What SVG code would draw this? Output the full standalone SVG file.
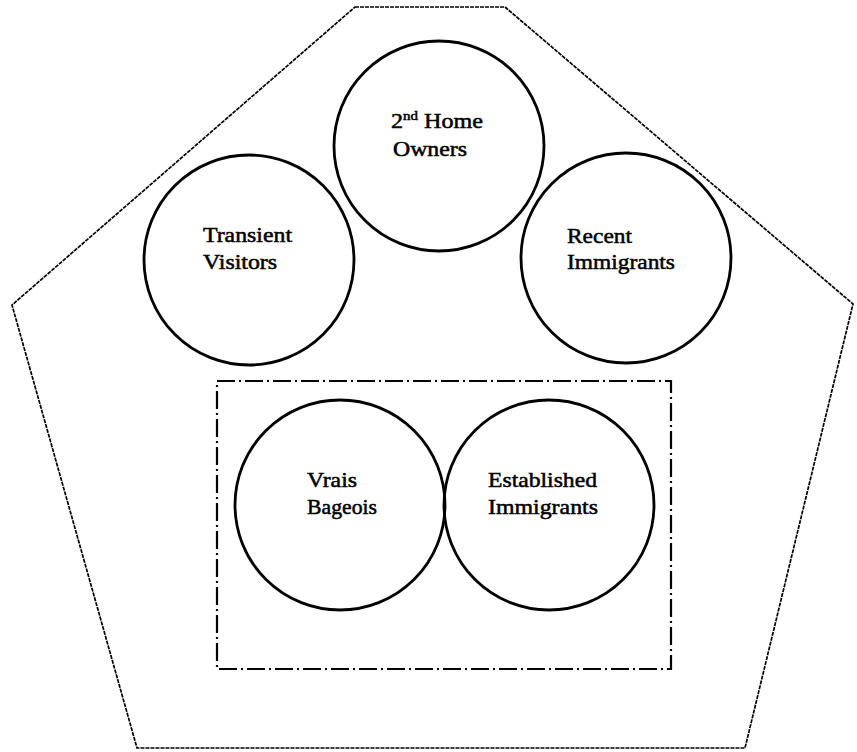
<svg xmlns="http://www.w3.org/2000/svg" width="857" height="752" viewBox="0 0 857 752">
<style>
.bg{fill:#ffffff}
.outer{fill:none;stroke:#000;stroke-width:1.7;stroke-dasharray:4 1;stroke-linejoin:miter}
.group{fill:none;stroke:#000;stroke-width:2.2;stroke-dasharray:18 4 2 4}
.node circle{fill:none;stroke:#000;stroke-width:2.8}
.lbl{font-family:"Liberation Serif","Times New Roman",serif;font-size:21px;fill:#000;stroke:#000;stroke-width:0.5}
.sup{font-size:13px}
</style>
<rect class="bg" x="0" y="0" width="857" height="752"/>
<polygon id="community" class="outer" points="355,7 505,7 853,304 745,748 137,748 12,305"/>
<rect id="established-group" class="group" x="217" y="381" width="454" height="288"/>
<g id="connectors"></g>
<g id="second-home-owners" class="node">
<circle cx="439" cy="146" r="105"/>
<text class="lbl" x="391" y="128" textLength="92" lengthAdjust="spacingAndGlyphs">2<tspan class="sup" dy="-8">nd</tspan><tspan dy="8"> Home</tspan></text>
<text class="lbl" x="393" y="156" textLength="74" lengthAdjust="spacingAndGlyphs">Owners</text>
</g>
<g id="transient-visitors" class="node">
<circle cx="249" cy="260" r="105"/>
<text class="lbl" x="203" y="242" textLength="89" lengthAdjust="spacingAndGlyphs">Transient</text>
<text class="lbl" x="203" y="269" textLength="74" lengthAdjust="spacingAndGlyphs">Visitors</text>
</g>
<g id="recent-immigrants" class="node">
<circle cx="626" cy="258" r="105"/>
<text class="lbl" x="567" y="243" textLength="65" lengthAdjust="spacingAndGlyphs">Recent</text>
<text class="lbl" x="567" y="269" textLength="108" lengthAdjust="spacingAndGlyphs">Immigrants</text>
</g>
<g id="vrais-bageois" class="node">
<circle cx="340" cy="505" r="105"/>
<text class="lbl" x="307" y="487" textLength="50" lengthAdjust="spacingAndGlyphs">Vrais</text>
<text class="lbl" x="307" y="514" textLength="70" lengthAdjust="spacingAndGlyphs">Bageois</text>
</g>
<g id="established-immigrants" class="node">
<circle cx="549" cy="505" r="105"/>
<text class="lbl" x="488" y="487" textLength="109" lengthAdjust="spacingAndGlyphs">Established</text>
<text class="lbl" x="488" y="514" textLength="110" lengthAdjust="spacingAndGlyphs">Immigrants</text>
</g>
</svg>
